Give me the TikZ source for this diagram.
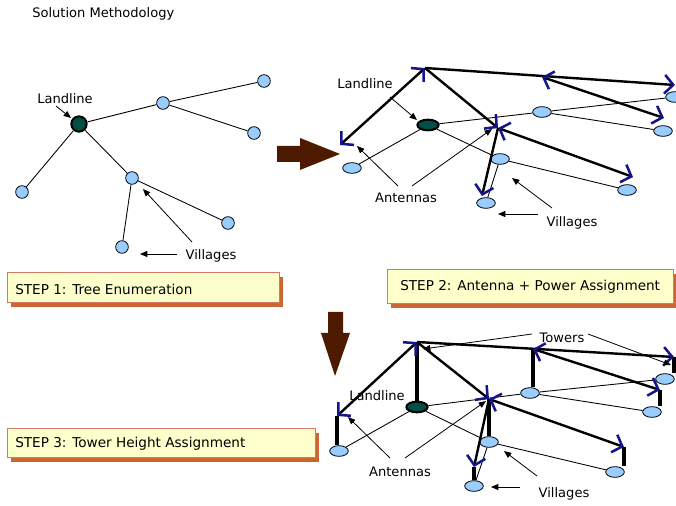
\documentclass[tikz,border=0pt]{standalone}
\usepackage{fontspec}
\setmainfont{DejaVu Sans}
\usetikzlibrary{arrows.meta,shapes.geometric}
\definecolor{vblue}{RGB}{153,204,255}
\definecolor{landc}{RGB}{0,80,72}
\definecolor{antblue}{RGB}{20,20,140}
\definecolor{brownarr}{RGB}{77,26,0}
\definecolor{boxfill}{RGB}{255,255,204}
\definecolor{boxline}{RGB}{214,120,100}
\definecolor{boxshadow}{RGB}{204,102,51}
\begin{document}
\begin{tikzpicture}[x=0.75pt,y=-0.75pt,
  lbl/.style={font=\fontsize{9.8pt}{12pt}\selectfont, inner sep=0pt},
  steptxt/.style={font=\fontsize{10.2pt}{12pt}\selectfont, inner sep=0pt, anchor=west},
  vil1/.style={circle, draw, line width=0.6pt, fill=vblue, minimum size=9.5pt, inner sep=0pt},
  land1/.style={circle, draw, line width=1.5pt, fill=landc, minimum size=11.5pt, inner sep=0pt},
  vil/.style={ellipse, draw, line width=0.6pt, fill=vblue, minimum width=14pt, minimum height=8pt, inner sep=0pt},
  land/.style={ellipse, draw, line width=1.5pt, fill=landc, minimum width=16pt, minimum height=8pt, inner sep=0pt},
  edge/.style={line width=0.65pt},
  call/.style={line width=0.6pt, -{Triangle[length=5.5pt,width=4.5pt]}},
  link/.style={line width=1.8pt, >={Straight Barb[length=6.5pt,width=14pt,line width=1.9pt,color=antblue]}},
  tower/.style={line width=3pt},
  stepframe/.style={draw=boxline, fill=boxfill, line width=0.75pt},
]
\useasboundingbox (0,0) rectangle (676,506);

% title
\node[lbl, anchor=west] (title) at (32,14) {Solution Methodology};

% ---------- big arrows ----------
\fill[brownarr] (277,146) -- (300,146) -- (300,138) -- (340,154) -- (300,170) -- (300,162) -- (277,162) -- cycle;
\fill[brownarr] (328,312) -- (343,312) -- (343,333) -- (350,333) -- (335,376) -- (321,333) -- (328,333) -- cycle;

% ---------- step boxes ----------
\fill[boxshadow] (11,277) rectangle (283,307);
\draw[stepframe] (7,273) rectangle (279,303);
\node[steptxt] (s1) at (15,289) {STEP 1: Tree Enumeration};
\fill[boxshadow] (391,274) rectangle (677,308);
\draw[stepframe] (387,270) rectangle (673,304);
\node[steptxt] (s2) at (400,287) {STEP 2: Antenna + Power Assignment};
\fill[boxshadow] (11,433) rectangle (319,462);
\draw[stepframe] (7,429) rectangle (315,458);
\node[steptxt] (s3) at (15,444) {STEP 3: Tower Height Assignment};

% ---------- STEP 1 tree ----------
\node[land1] (L1) at (79,124) {};
\node[vil1] (a1) at (163,103) {};
\node[vil1] (a2) at (264,81) {};
\node[vil1] (a3) at (254,133) {};
\node[vil1] (a4) at (22,192) {};
\node[vil1] (a5) at (132,178) {};
\node[vil1] (a6) at (228,223) {};
\node[vil1] (a7) at (122,247) {};
\draw[edge] (L1) -- (a1);
\draw[edge] (a1) -- (a2);
\draw[edge] (a1) -- (a3);
\draw[edge] (L1) -- (a4);
\draw[edge] (L1) -- (a5);
\draw[edge] (a5) -- (a6);
\draw[edge] (a5) -- (a7);
\node[lbl] (l1land) at (65,99) {Landline};
\node[lbl] (l1vil) at (211,256) {Villages};
\coordinate (k1a) at (56,106); \coordinate (k1b) at (71,118);
\draw[call] (k1a) -- (k1b);
\coordinate (k2a) at (192,242); \coordinate (k2b) at (143,189);
\draw[call] (k2a) -- (k2b);
\coordinate (k3a) at (177,254); \coordinate (k3b) at (140,254);
\draw[call] (k3a) -- (k3b);

% ---------- STEP 2 ----------
\node[land] (L2) at (428,125) {};
\node[vil] (b1) at (352,168) {};
\node[vil] (b2) at (542,112) {};
\node[vil] (b3) at (675,97) {};
\node[vil] (b4) at (663,131) {};
\node[vil] (b5) at (500,159) {};
\node[vil] (b6) at (627,190) {};
\node[vil] (b7) at (486,203) {};
\draw[edge] (L2) -- (b1);
\draw[edge] (L2) -- (b2);
\draw[edge] (b2) -- (b3);
\draw[edge] (b2) -- (b4);
\draw[edge] (L2) -- (b5);
\draw[edge] (b5) -- (b6);
\draw[edge] (b5) -- (b7);
\coordinate (A2) at (425,68);
\coordinate (P21) at (340,145);
\coordinate (P22) at (675,85);
\coordinate (B2) at (542,77);
\coordinate (P23) at (664,118);
\coordinate (C2) at (498,128);
\coordinate (P25) at (633,177);
\coordinate (P26) at (482,196);
\draw[link,<->] (P21) -- (A2);
\draw[link,->] (A2) -- (P22);
\draw[link,<->] (B2) -- (P23);
\draw[link,->] (A2) -- (C2);
\draw[link,<->] (C2) -- (P25);
\draw[link,->] (C2) -- (P26);
\node[lbl] (l2land) at (365,84) {Landline};
\node[lbl] (l2ant) at (406,198) {Antennas};
\node[lbl] (l2vil) at (572,223) {Villages};
\coordinate (m1a) at (390,97); \coordinate (m1b) at (417,120);
\draw[call] (m1a) -- (m1b);
\coordinate (m2a) at (398,186); \coordinate (m2b) at (357,146);
\draw[call] (m2a) -- (m2b);
\coordinate (m3a) at (412,186); \coordinate (m3b) at (492,129);
\draw[call] (m3a) -- (m3b);
\coordinate (m4a) at (552,208); \coordinate (m4b) at (512,178);
\draw[call] (m4a) -- (m4b);
\coordinate (m5a) at (538,214); \coordinate (m5b) at (498,214);
\draw[call] (m5a) -- (m5b);

% ---------- STEP 3 ----------
\node[land] (L3) at (417,407) {};
\node[vil] (c1) at (339,451) {};
\node[vil] (c2) at (530,393) {};
\node[vil] (c3) at (665,379) {};
\node[vil] (c4) at (652,412) {};
\node[vil] (c5) at (489,442) {};
\node[vil] (c6) at (615,472) {};
\node[vil] (c7) at (474,486) {};
\draw[edge] (L3) -- (c1);
\draw[edge] (L3) -- (c2);
\draw[edge] (c2) -- (c3);
\draw[edge] (c2) -- (c4);
\draw[edge] (L3) -- (c5);
\draw[edge] (c5) -- (c6);
\draw[edge] (c5) -- (c7);
\coordinate (A3) at (417,342);
\coordinate (P31) at (337,416);
\coordinate (P32) at (674,357);
\coordinate (B3) at (533,349);
\coordinate (P33) at (660,390);
\coordinate (C3) at (489,399);
\coordinate (P35) at (624,447);
\coordinate (P36) at (474,467);
% towers
\draw[tower] (A3) -- (L3.north);
\draw[tower] (P31) -- (P31 |- c1.north);
\draw[tower] (B3) -- (B3 |- c2.north);
\draw[tower] (P32) -- (P32 |- c3.north);
\draw[tower] (P33) -- (P33 |- c4.north);
\draw[tower] (C3) -- (C3 |- c5.north);
\draw[tower] (P35) -- (P35 |- c6.north);
\draw[tower] (P36) -- (P36 |- c7.north);
% links
\draw[link,<->] (P31) -- (A3);
\draw[link,->] (A3) -- (P32);
\draw[link,<->] (B3) -- (P33);
\draw[link,->] (A3) -- (C3);
\draw[link,<->] (C3) -- (P35);
\draw[link,->] (C3) -- (P36);
\node[lbl] (l3land) at (377,396) {Landline};
\node[lbl] (l3ant) at (400,472) {Antennas};
\node[lbl] (l3vil) at (564,494) {Villages};
\node[lbl] (l3tow) at (562,338) {Towers};
\coordinate (n1a) at (390,458); \coordinate (n1b) at (348,417);
\draw[call] (n1a) -- (n1b);
\coordinate (n2a) at (405,458); \coordinate (n2b) at (486,401);
\draw[call] (n2a) -- (n2b);
\coordinate (n3a) at (537,476); \coordinate (n3b) at (504,451);
\draw[call] (n3a) -- (n3b);
\coordinate (n4a) at (520,487); \coordinate (n4b) at (491,487);
\draw[call] (n4a) -- (n4b);
\coordinate (n5a) at (532,334); \coordinate (n5b) at (423,349);
\draw[call] (n5a) -- (n5b);
\coordinate (n6a) at (588,334); \coordinate (n6b) at (671,365);
\draw[call] (n6a) -- (n6b);
\end{tikzpicture}
\end{document}
